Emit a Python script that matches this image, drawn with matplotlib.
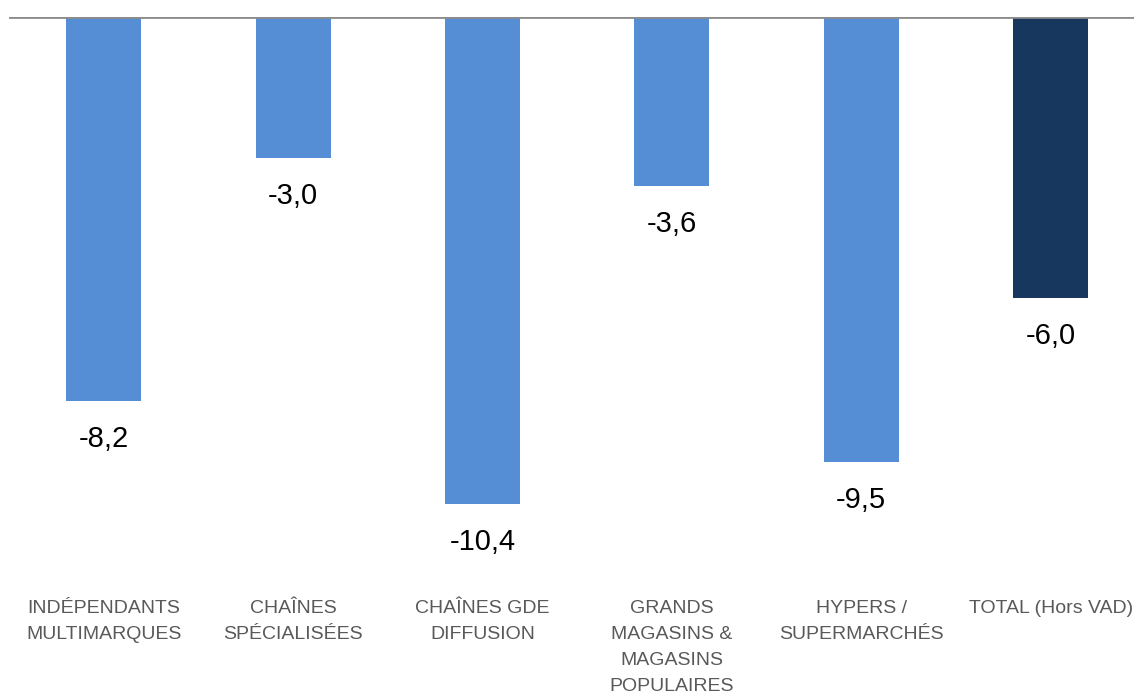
import numpy as np
import matplotlib.pyplot as plt

categories = ["INDÉPENDANTS\nMULTIMARQUES", "CHAÎNES\nSPÉCIALISÉES", "CHAÎNES GDE\nDIFFUSION",
              "GRANDS\nMAGASINS &\nMAGASINS\nPOPULAIRES", "HYPERS /\nSUPERMARCHÉS", "TOTAL (Hors VAD)"]
values = [-8.2, -3.0, -10.4, -3.6, -9.5, -6.0]
colors = ["#558ED5"] * 5 + ["#17375E"]

plt.rcParams['font.family'] = ['Liberation Sans', 'DejaVu Sans']

fig = plt.figure(figsize=(11.34, 6.98), dpi=100)
ax = fig.add_axes([9 / 1134, 1 - 579 / 698, 1 - 9 / 1134, 562 / 698])

x = np.arange(len(values))
ax.bar(x, values, width=0.396, color=colors, zorder=2)
ax.axhline(0, color="#8C8C8C", lw=2, zorder=3)

# value labels below each bar end
for xi, v in zip(x, values):
    ax.annotate(f"{v:.1f}".replace(".", ","), (xi, v), xytext=(0, -27.5), textcoords="offset points",
                ha="center", va="center", fontsize=21, color="black")

# category labels under the plot
for xi, c in zip(x, categories):
    ax.annotate(c, (xi, -12.0), xytext=(0, -15), textcoords="offset points", ha="center", va="top",
                fontsize=14, color="#595959", linespacing=1.7, annotation_clip=False)

ax.set_xlim(-0.5, 5.44)
ax.set_ylim(-12, 0)
ax.axis("off")

fig.savefig("out.png", dpi=100)
